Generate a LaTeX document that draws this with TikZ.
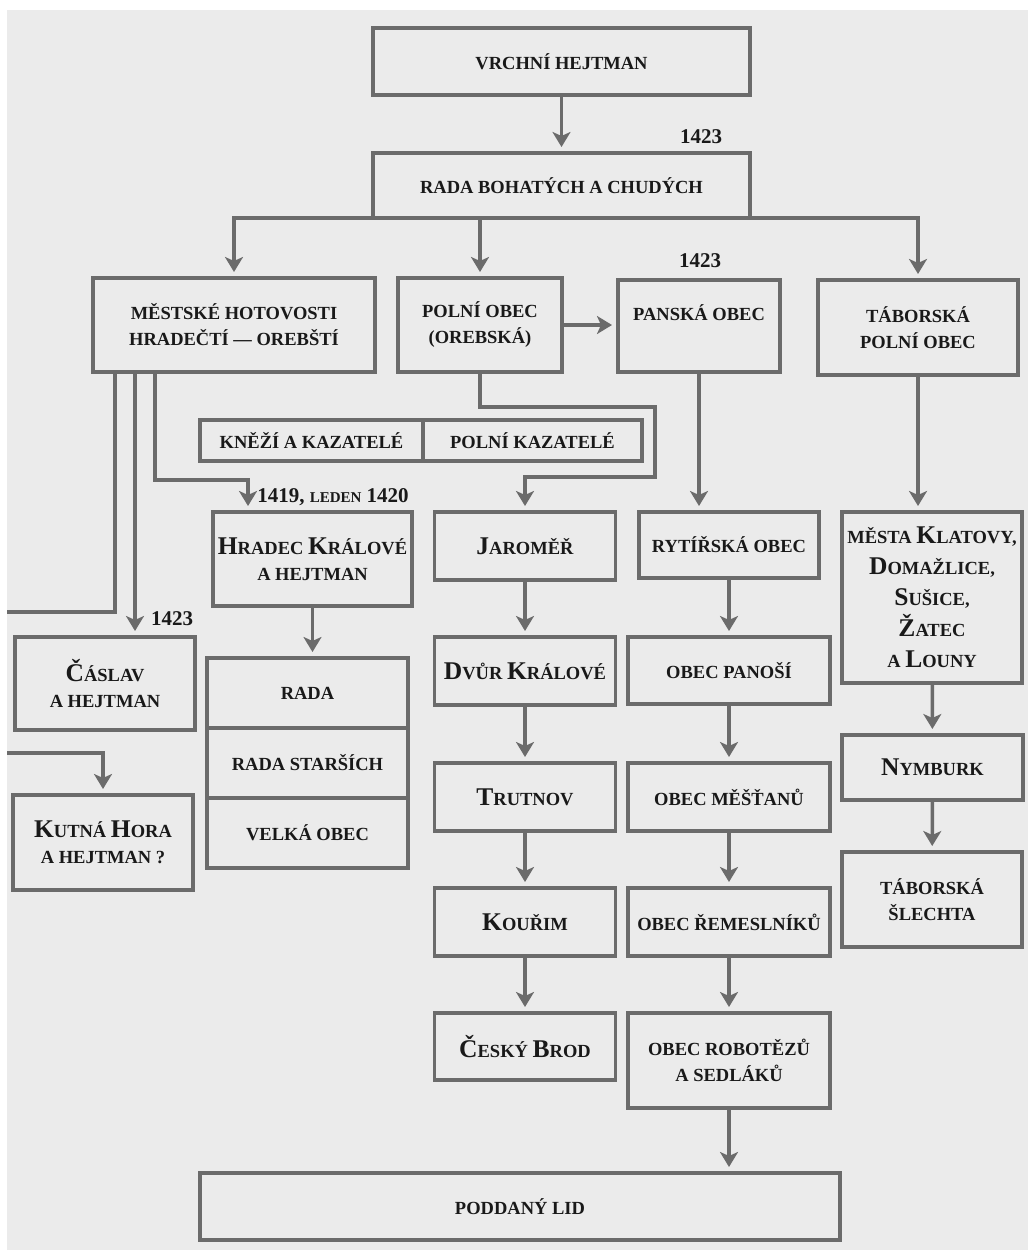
\documentclass[tikz,border=0pt]{standalone}
\usepackage{fontspec}
\setmainfont{Liberation Serif}
\usetikzlibrary{arrows.meta}
\definecolor{lineg}{gray}{0.42}
\definecolor{pagebg}{gray}{0.92}
\newcommand\boxfont{\fontsize{18.5}{26}\bfseries\selectfont}
\newcommand\yrfont{\fontsize{21}{24}\bfseries\selectfont}
\newcommand\Ini[1]{{\fontsize{25.5}{26}\selectfont #1}}

\begin{document}
\begin{tikzpicture}[x=1pt,y=-1pt,
    box/.style={draw=lineg,line width=3.5pt,inner sep=0pt,outer sep=0pt,align=center,font=\boxfont,text=black!90},
    conn/.style={draw=lineg,line width=3.5pt},
    arr/.style={conn,-{Stealth[length=15pt,width=18pt,inset=4pt]},shorten >=6pt},
    yr/.style={inner sep=0pt,font=\yrfont,text=black!90}]
  \useasboundingbox (0,0) rectangle (1028,1250);
  \fill[pagebg] (7,10) rectangle (1028,1250);

  \node[box,minimum width=377,minimum height=67] (vrchni) at (561.5,61.5) {VRCHNÍ HEJTMAN};
  \node[box,minimum width=377,minimum height=65] (rada) at (561.5,185.5) {RADA BOHATÝCH A CHUDÝCH};
  \node[box,minimum width=282,minimum height=94] (mestske) at (234,325) {MĚSTSKÉ HOTOVOSTI\\HRADEČTÍ — OREBŠTÍ};
  \node[box,minimum width=164,minimum height=94] (polni) at (480,325) {POLNÍ OBEC\\(OREBSKÁ)};
  \node[box,minimum width=162,minimum height=92] (panska) at (699,326) {PANSKÁ OBEC\\\mbox{}};
  \node[box,minimum width=200,minimum height=95] (taborska) at (918,327.5) {TÁBORSKÁ\\POLNÍ OBEC};
  \node[box,minimum width=223,minimum height=41] (kneze) at (311.5,440.5) {KNĚŽÍ A KAZATELÉ};
  \node[box,minimum width=219,minimum height=41] (polkaz) at (532.5,440.5) {POLNÍ KAZATELÉ};

  \node[box,minimum width=199,minimum height=94] (hradec) at (312.5,559) {\Ini{H}RADEC \Ini{K}RÁLOVÉ\\A HEJTMAN};
  \node[box,minimum width=201,minimum height=70] (radaA) at (307.5,693) {RADA};
  \node[box,minimum width=201,minimum height=70] (radaB) at (307.5,763) {RADA STARŠÍCH};
  \node[box,minimum width=201,minimum height=70] (radaC) at (307.5,833) {VELKÁ OBEC};
  \node[box,minimum width=180,minimum height=93] (caslav) at (105,683.5) {\Ini{Č}ÁSLAV\\A HEJTMAN};
  \node[box,minimum width=180,minimum height=95] (kutna) at (103,842.5) {\Ini{K}UTNÁ \Ini{H}ORA\\A HEJTMAN ?};

  \node[box,minimum width=181,minimum height=68] (jaromer) at (525,546) {\Ini{J}AROMĚŘ};
  \node[box,minimum width=181,minimum height=68] (dvur) at (525,671) {\Ini{D}VŮR \Ini{K}RÁLOVÉ};
  \node[box,minimum width=181,minimum height=68] (trutnov) at (525,797) {\Ini{T}RUTNOV};
  \node[box,minimum width=181,minimum height=68] (kourim) at (525,922) {\Ini{K}OUŘIM};
  \node[box,minimum width=181,minimum height=67] (cbrod) at (525,1046.5) {\Ini{Č}ESKÝ \Ini{B}ROD};

  \node[box,minimum width=180,minimum height=66] (rytirska) at (729,545) {RYTÍŘSKÁ OBEC};
  \node[box,minimum width=202,minimum height=67] (panosi) at (729,670.5) {OBEC PANOŠÍ};
  \node[box,minimum width=202,minimum height=68] (mestane) at (729,797) {OBEC MĚŠŤANŮ};
  \node[box,minimum width=202,minimum height=68] (remesl) at (729,922) {OBEC ŘEMESLNÍKŮ};
  \node[box,minimum width=202,minimum height=95] (robot) at (729,1060.5) {OBEC ROBOTĚZŮ\\A SEDLÁKŮ};

  \node[box,minimum width=180,minimum height=171] (mesta) at (932,597.5) {MĚSTA \Ini{K}LATOVY,\\[5pt]\Ini{D}OMAŽLICE,\\[5pt]\Ini{S}UŠICE,\\[5pt]\Ini{Ž}ATEC\\[5pt]A \Ini{L}OUNY};
  \node[box,minimum width=181,minimum height=65] (nymburk) at (932.5,767.5) {\Ini{N}YMBURK};
  \node[box,minimum width=180,minimum height=95] (slechta) at (932,899.5) {TÁBORSKÁ\\ŠLECHTA};

  \node[box,minimum width=640,minimum height=67] (poddany) at (520,1206.5) {PODDANÝ LID};

  \node[yr] (yrA) at (701,137) {1423};
  \node[yr] (yrB) at (700,261) {1423};
  \node[yr] (yrC) at (172,619) {1423};
  \node[yr,anchor=base] (yrD) at (333,502) {1419, {\fontsize{15}{18}\selectfont LEDEN} 1420};

  \coordinate (pkA) at (655,407);
  \coordinate (pkB) at (655,477);
  \coordinate (hk) at (248,480);
  \coordinate (offA) at (7,612);
  \coordinate (offB) at (7,753);

  \draw[arr] (vrchni) -- (rada);
  \draw[arr] (rada.south) -| (mestske);
  \draw[arr] (rada.south) -| (polni);
  \draw[arr] (rada.south) -| (taborska);
  \draw[arr] (polni.east) -- (polni.east -| panska.west);
  \draw[arr] (panska.south) -- (panska.south |- rytirska.north);
  \draw[arr] (taborska.south) -- (taborska.south |- mesta.north);
  \draw[arr] (polni.south) |- (pkA) -- (pkB) -| (jaromer);

  \draw[conn] ([xshift=-119pt]mestske.south) |- (offA);
  \draw[arr] ([xshift=-99pt]mestske.south) -- ([xshift=-99pt]mestske.south |- caslav.north);
  \draw[arr] ([xshift=-79pt]mestske.south) |- (hk) -- (hk |- hradec.north);
  \draw[arr] (offB) -| (kutna);
  \draw[arr] (hradec.south) -- (hradec.south |- radaA.north);

  \foreach \a/\b in {jaromer/dvur,dvur/trutnov,trutnov/kourim,kourim/cbrod,
      rytirska/panosi,panosi/mestane,mestane/remesl,remesl/robot,mesta/nymburk,nymburk/slechta}
    \draw[arr] (\a) -- (\b);
  \draw[arr] (robot.south) -- (robot.south |- poddany.north);
\end{tikzpicture}
\end{document}
